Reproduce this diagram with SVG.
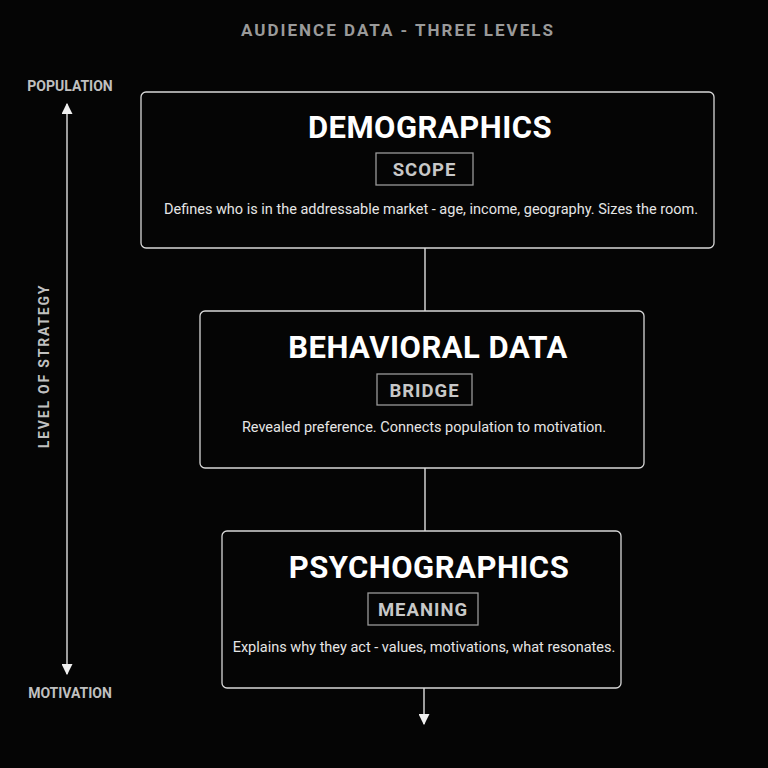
<svg xmlns="http://www.w3.org/2000/svg" width="768" height="768" viewBox="0 0 768 768">
<style>
text{font-family:Roboto,"Liberation Sans",sans-serif;text-anchor:middle}
.box{fill:#050505;stroke:#d8d8d8;stroke-width:1.3}
.badge{fill:none;stroke:#9a9a9a;stroke-width:1.3}
.t{fill:#fff;font-weight:700;font-size:31px;letter-spacing:0.5px}
.b{fill:#c8c8c8;font-weight:700;font-size:18.5px;letter-spacing:1px}
.d{fill:#e6e6e6;font-size:14.5px}
.ax{fill:#c0c0c0;font-weight:700;font-size:14px}
.ln{stroke:#e0e0e0;stroke-width:1.4;fill:none}
</style>
<defs><marker id="ah" viewBox="0 0 10 10" refX="9" refY="5" markerWidth="11" markerHeight="11" orient="auto-start-reverse" markerUnits="userSpaceOnUse"><path d="M0,0L10,5L0,10z" fill="#f0f0f0"/></marker></defs>
<rect width="768" height="768" fill="#050505"/>
<text x="398" y="36" fill="#9a9a9a" font-size="17" font-weight="700" letter-spacing="2">AUDIENCE DATA - THREE LEVELS</text>
<g id="axis">
<line class="ln" x1="67" y1="104" x2="67" y2="674" marker-start="url(#ah)" marker-end="url(#ah)"/>
<text class="ax" x="70" y="91">POPULATION</text>
<text class="ax" x="70" y="698">MOTIVATION</text>
<text class="ax" transform="translate(49,366) rotate(-90)" letter-spacing="1.8">LEVEL OF STRATEGY</text>
</g>
<g id="connectors">
<line class="ln" x1="425" y1="248" x2="425" y2="311"/>
<line class="ln" x1="425" y1="468" x2="425" y2="531"/>
<line class="ln" x1="424" y1="688" x2="424" y2="724" marker-end="url(#ah)"/>
</g>
<g id="demographics">
<rect class="box" x="141" y="92" width="573" height="156" rx="5"/>
<text class="t" x="430" y="138">DEMOGRAPHICS</text>
<rect class="badge" x="376" y="153" width="97" height="32"/>
<text class="b" x="424.5" y="176">SCOPE</text>
<text class="d" x="431" y="214">Defines who is in the addressable market - age, income, geography. Sizes the room.</text>
</g>
<g id="behavioral">
<rect class="box" x="200" y="311" width="444" height="157" rx="5"/>
<text class="t" x="428" y="358">BEHAVIORAL DATA</text>
<rect class="badge" x="377" y="374" width="95" height="31"/>
<text class="b" x="424.5" y="397">BRIDGE</text>
<text class="d" x="424" y="432">Revealed preference. Connects population to motivation.</text>
</g>
<g id="psychographics">
<rect class="box" x="222" y="531" width="399" height="157" rx="5"/>
<text class="t" x="429" y="578">PSYCHOGRAPHICS</text>
<rect class="badge" x="368" y="593" width="110" height="32"/>
<text class="b" x="423" y="616">MEANING</text>
<text class="d" x="424" y="652">Explains why they act - values, motivations, what resonates.</text>
</g>
</svg>
